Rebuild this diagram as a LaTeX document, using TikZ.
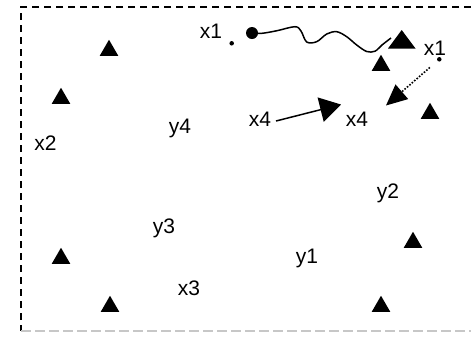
\documentclass[tikz,border=0pt]{standalone}
\usepackage{fontspec}
\setmainfont{Liberation Sans}
\usetikzlibrary{shapes.geometric,arrows.meta}
\tikzset{
  marker/.style={regular polygon, regular polygon sides=3, fill=black, draw=none, inner sep=0pt, minimum size=21.5pt},
  lbl/.style={anchor=base, inner sep=0pt, font=\fontsize{21}{25}\selectfont},
  bigdot/.style={circle, fill=black, inner sep=0pt, minimum size=12pt},
  smalldot/.style={circle, fill=black, inner sep=0pt, minimum size=4.5pt},
  conn/.style={line width=1.5pt},
  frameblack/.style={line width=1.6pt, dash pattern=on 7pt off 5pt},
  framegray/.style={line width=1.3pt, color=black!22, dash pattern=on 10pt off 4pt},
}
\begin{document}
\begin{tikzpicture}[x=1pt,y=-1pt]
\useasboundingbox (0,0) rectangle (471,341);
% frame
\coordinate (fTR) at (471,7);
\coordinate (fTL) at (21,7);
\coordinate (fBL) at (21,331);
\coordinate (fBR) at (471,331);
\draw[frameblack] (fTR) -- (fTL) -- (fBL);
\draw[framegray] (fBL) -- (fBR);
% markers
\node[marker] (m1) at (109,50.5) {};
\node[marker] (m2) at (61,98.5) {};
\node[marker] (m3) at (381,65.5) {};
\node[marker] (m4) at (430,113.5) {};
\node[marker] (m5) at (413,242.5) {};
\node[marker] (m6) at (61,258.5) {};
\node[marker] (m7) at (110,306.5) {};
\node[marker] (m8) at (381,306.5) {};
% labels
\node[lbl] (x1a) at (211,38) {x1};
\node[lbl] (x1b) at (435,55) {x1};
\node[lbl] (x4a) at (260,126) {x4};
\node[lbl] (x4b) at (357,126) {x4};
\node[lbl] (x2) at (45.5,150) {x2};
\node[lbl] (y4) at (180,133) {y4};
\node[lbl] (y2) at (388,198) {y2};
\node[lbl] (y3) at (164,233) {y3};
\node[lbl] (y1) at (307,263) {y1};
\node[lbl] (x3) at (189,295) {x3};
% dots
\node[smalldot] (sd1) at (231.7,43.3) {};
\node[bigdot] (bd) at (252,33) {};
\node[smalldot] (sd2) at (439.3,59.3) {};
% wavy connector
\coordinate (wend) at (391,38);
\draw[conn] plot[smooth, tension=0.55] coordinates {(252,33) (262,33.3) (277,30.7) (295,26.7) (301,31) (306.7,42) (316.7,41.7) (326.7,34) (336.7,31.7) (346.7,36.7) (356.7,45) (366.7,51.5) (375,51.2) (382,45) (391,38)};
\fill (401.7,30) -- (388,48.5) -- (415.5,48.5) -- cycle;
% dotted arrow
\coordinate (tip1) at (386,105.5);
\draw[line width=1.6pt, dash pattern=on 1.6pt off 1.6pt, shorten <=10pt, -{Triangle[length=21pt,width=19pt]}] (sd2) -- (tip1);
% x4 arrow
\coordinate (a0) at (276,121);
\coordinate (a1) at (341,104.5);
\draw[conn, -{Triangle[length=21pt,width=25pt]}] (a0) -- (a1);
\end{tikzpicture}
\end{document}
